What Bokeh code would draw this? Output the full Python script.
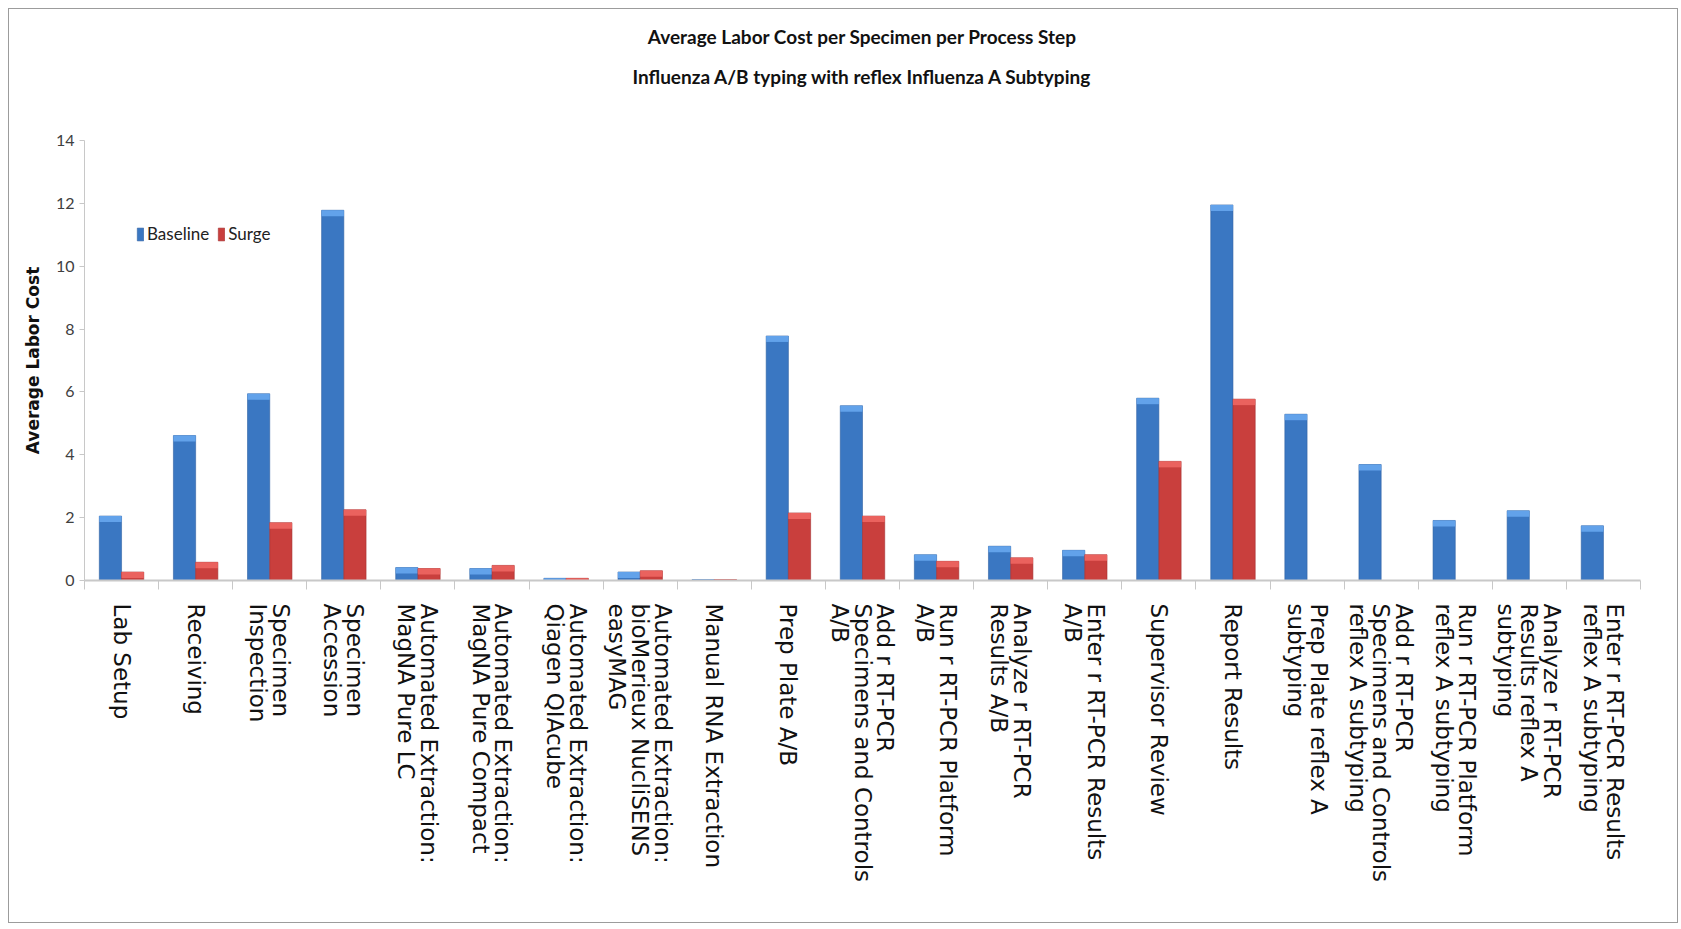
import numpy as np
from bokeh.plotting import figure
from bokeh.models import (Range1d, LinearAxis, FixedTicker, CustomJSTickFormatter,
                          ColumnDataSource, Legend, LegendItem, Title)
from bokeh.embed import file_html
from bokeh.resources import INLINE

# Process steps (wrapped labels as drawn under the axis)
step_labels = [
    "Lab  Setup", "Receiving", "Specimen\nInspection", "Specimen\nAccession",
    "Automated Extraction:\nMagNA Pure LC", "Automated Extraction:\nMagNA Pure Compact",
    "Automated Extraction:\nQiagen QIAcube", "Automated Extraction:\nbioMerieux NucliSENS\neasyMAG",
    "Manual RNA Extraction", "Prep Plate A/B", "Add r RT-PCR\nSpecimens and Controls\nA/B",
    "Run r RT-PCR Platform\nA/B", "Analyze r RT-PCR\nResults A/B", "Enter r RT-PCR Results\nA/B",
    "Supervisor Review", "Report Results", "Prep Plate reflex A\nsubtyping",
    "Add r RT-PCR\nSpecimens and Controls\nreflex A subtyping",
    "Run r RT-PCR Platform\nreflex A subtyping", "Analyze r RT-PCR\nResults reflex A\nsubtyping",
    "Enter r RT-PCR Results\nreflex A subtyping",
]

baseline = [2.05, 4.61, 5.94, 11.78, 0.41, 0.38, 0.07, 0.27, 0.03, 7.78, 5.56,
            0.82, 1.09, 0.96, 5.80, 11.95, 5.29, 3.69, 1.91, 2.22, 1.74]
surge = [0.27, 0.58, 1.84, 2.25, 0.38, 0.48, 0.07, 0.31, 0.03, 2.15, 2.05,
         0.61, 0.72, 0.82, 3.79, 5.77, None, None, None, None, None]

y_ticks = [0, 2, 4, 6, 8, 10, 12, 14]

title_lines = ["Average Labor Cost per Specimen per Process Step",
               "Influenza A/B typing with reflex Influenza A Subtyping"]

NARROW = "Lato"
WIDE = "DejaVu Sans"

n = len(step_labels)
centers = np.arange(n) + 0.5          # slot centre of each process step
base_arr = np.array(baseline, dtype=float)
surge_arr = np.array([np.nan if v is None else v for v in surge], dtype=float)
cap = 0.19  # height of the lighter top band on each bar

src = ColumnDataSource(dict(
    xb=centers - 0.15,
    xs=centers + 0.15,
    base=base_arr,
    base_cap=np.maximum(base_arr - cap, 0),
    surge=surge_arr,
    surge_cap=np.maximum(surge_arr - cap, 0),
))

p = figure(
    x_range=Range1d(0, n),
    y_range=Range1d(0, 14),
    width=1670, height=915,
    x_axis_location=None,
    title=None,
    toolbar_location=None,
    output_backend="svg",
    min_border_left=75, min_border_right=39,
    min_border_top=131, min_border_bottom=344,
    outline_line_color=None,
    background_fill_color="white",
    border_fill_color="white",
)
p.styles = {"border": "1px solid #9c9c9c", "margin": "8px 0 0 8px"}
p.xgrid.visible = False
p.ygrid.visible = False

# bars: body + lighter top band
bw = 0.30
b_body = p.vbar(x="xb", top="base", bottom=0, width=bw, source=src,
                fill_color="#3a77c2", line_color="#2f62a3", line_width=0.6)
p.vbar(x="xb", top="base", bottom="base_cap", width=bw, source=src,
       fill_color="#62a2ea", line_color=None)
s_body = p.vbar(x="xs", top="surge", bottom=0, width=bw, source=src,
                fill_color="#c93f3d", line_color="#a53130", line_width=0.6)
p.vbar(x="xs", top="surge", bottom="surge_cap", width=bw, source=src,
       fill_color="#ea625e", line_color=None)

# y axis
yax = p.yaxis[0]
yax.ticker = FixedTicker(ticks=y_ticks)
yax.axis_label = "Average Labor Cost"
yax.axis_label_text_font = WIDE
yax.axis_label_text_font_style = "bold"
yax.axis_label_text_font_size = "17px"
yax.axis_label_text_color = "#111111"
yax.axis_label_standoff = 10
yax.major_label_text_font = NARROW
yax.major_label_text_font_size = "16px"
yax.major_label_text_color = "#404040"
yax.axis_line_color = "#c8c8c8"
yax.major_tick_line_color = "#c8c8c8"
yax.major_tick_in = 0
yax.major_tick_out = 5
yax.minor_tick_line_color = None

# x axis: step names at slot centres, tick marks at slot boundaries
x_axis = LinearAxis(
    ticker=FixedTicker(ticks=list(centers), minor_ticks=list(range(n + 1))),
    formatter=CustomJSTickFormatter(args=dict(labels=step_labels),
                                    code="return labels[Math.floor(tick)];"),
    major_label_orientation="vertical",
    major_label_text_font=WIDE,
    major_label_text_font_size="23px",
    major_label_text_line_height=0.88,
    major_label_text_color="#111111",
    major_label_standoff=14,
    major_tick_in=0, major_tick_out=9,
    major_tick_line_color=None,
    minor_tick_in=0, minor_tick_out=9,
    minor_tick_line_color="#c8c8c8",
    axis_line_color="#c8c8c8", axis_line_width=2,
)
p.add_layout(x_axis, "below")

# legend
legend = Legend(
    items=[LegendItem(label="Baseline", renderers=[b_body]),
           LegendItem(label="Surge", renderers=[s_body])],
    orientation="horizontal",
    location=(52, 336),
    border_line_color=None,
    background_fill_alpha=0,
    label_text_font=NARROW,
    label_text_font_size="17px",
    label_text_color="#222222",
    glyph_width=8, glyph_height=16,
    label_standoff=3, spacing=8,
    padding=0, margin=0,
)
p.add_layout(legend)


def heading(text, gap, size="19px"):
    kw = dict(text=text, align="center", text_font=NARROW, text_font_style="bold",
              text_font_size=size, text_color="#111111")
    try:
        return Title(standoff=gap, **kw)
    except AttributeError:
        return Title(**kw)


# heading block; the item added first sits closest to the frame
p.add_layout(heading(" ", 12, size="28px"), "above")   # blank gap above the frame
p.add_layout(heading(title_lines[1], 10), "above")
p.add_layout(heading(title_lines[0], 20), "above")

open("out.html", "w").write(file_html(p, INLINE))
